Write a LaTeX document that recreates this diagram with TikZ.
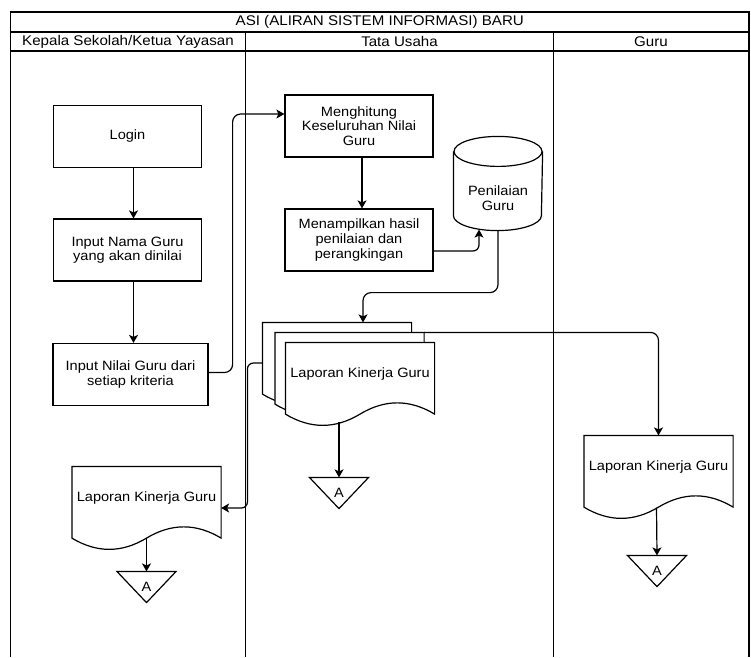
\documentclass[tikz,border=0pt]{standalone}
\usepackage{fontspec}
\setmainfont{Liberation Sans}[FakeStretch=1.08]
\usetikzlibrary{arrows.meta,calc,backgrounds}
\newcommand\docoutline[1]{%
  \coordinate (#1-r) at ($(#1.south east)+(0,8.5)$);
  \coordinate (#1-l) at ($(#1.south west)+(0,8.5)$);
  \draw[fill=white, line width=1.2pt] (#1-l) -- (#1.north west) -- (#1.north east) -- (#1-r)
    .. controls ($(#1-r)!0.1667!(#1-l)+(0,-15)$) and ($(#1-r)!0.3333!(#1-l)+(0,-15)$) .. ($(#1-r)!0.5!(#1-l)$)
    .. controls ($(#1-r)!0.6667!(#1-l)+(0,15)$) and ($(#1-r)!0.8333!(#1-l)+(0,15)$) .. (#1-l) -- cycle;}
\newcommand\trioutline[1]{%
  \draw (#1.north west) -- (#1.north east) -- (#1.south) -- cycle;}
\begin{document}
\begin{tikzpicture}[x=1pt,y=-1pt,line width=1.2pt,
  txt/.style={font=\fontsize{13.5}{14.5}\selectfont, align=center, inner sep=1pt},
  procbox/.style={txt, draw, minimum width=148pt, minimum height=62pt},
  docnode/.style={txt, minimum width=148pt, minimum height=62pt},
  trinode/.style={txt, minimum width=58pt, minimum height=30pt, inner sep=0pt},
  arr/.style={-{Stealth[length=8pt,width=9pt,inset=2pt]}},
  hdr/.style={font=\fontsize{14}{15}\selectfont, inner sep=0pt}]
\useasboundingbox (0,0) rectangle (751,657);
% frame
\draw (10.5,657) -- (10.5,12) -- (749,12) -- (749,657);
\draw (10.5,32) -- (749,32);
\draw (10.5,51) -- (749,51);
\draw (245.5,32) -- (245.5,657);
\draw (553.5,32) -- (553.5,657);
\node[hdr] (title) at (379.75,22) {ASI (ALIRAN SISTEM INFORMASI) BARU};
\node[hdr] (lane1) at (128,41.5) {Kepala Sekolah/Ketua Yayasan};
\node[hdr] (lane2) at (399.5,41.5) {Tata Usaha};
\node[hdr] (lane3) at (651,41.5) {Guru};
% process boxes
\node[procbox] (login) at (127.5,136.5) {Login};
\node[procbox] (inama) at (127.5,250) {Input Nama Guru\\yang akan dinilai};
\node[procbox, minimum width=155pt] (inilai) at (130.5,374.5) {Input Nilai Guru dari\\setiap kriteria};
\node[procbox] (menghitung) at (359,126) {Menghitung\\Keseluruhan Nilai\\Guru};
\node[procbox] (menampilkan) at (359,240) {Menampilkan hasil\\penilaian dan\\perangkingan};
% database
\node[minimum width=88pt, minimum height=93pt, inner sep=0pt] (db) at (498,183.5) {};
\draw[fill=white] (db.north west) ++(0,15) -- ($(db.south west)+(0,-15)$)
  arc[start angle=180, end angle=360, x radius=44pt, y radius=15pt] -- ($(db.north east)+(0,15)$);
\draw ($(db.north)+(0,15)$) ellipse [x radius=44pt, y radius=15pt];
\node[txt] (dbtext) at (498,198) {Penilaian\\Guru};
% documents
\node[docnode] (stackback) at (337,354) {};
\node[docnode] (stackmid) at (349.5,364) {};
\node[docnode] (stackfront) at (360,374) {Laporan Kinerja Guru};
\node[docnode] (kepdoc) at (146.5,498) {Laporan Kinerja Guru};
\node[docnode] (gurudoc) at (658.5,467) {Laporan Kinerja Guru};
\begin{scope}[on background layer]
\docoutline{stackback}
\docoutline{stackmid}
\docoutline{stackfront}
\docoutline{kepdoc}
\docoutline{gurudoc}
\end{scope}
% off-page connectors
\node[trinode] (tri1) at (339,493) {A};
\node[trinode] (tri2) at (146.5,587) {A};
\node[trinode] (tri3) at (657,571) {A};
\trioutline{tri1}
\trioutline{tri2}
\trioutline{tri3}
% connectors
\draw[arr] ($(login.south)+(6,0)$) -- ($(inama.north)+(6,0)$);
\draw[arr] ($(inama.south)+(6,0)$) -- ($(inilai.north)+(3,0)$);
\draw[arr, rounded corners=8pt] ($(inilai.east)+(0,-2)$) -- ++(24,0) |- ($(menghitung.west)+(0,-12)$);
\draw[arr] ($(menghitung.south)+(3,0)$) -- ($(menampilkan.north)+(3,0)$);
\draw[arr, rounded corners=6pt] ($(menampilkan.east)+(0,11)$) -| ($(db.south)+(-19,-1)$);
\draw[arr, rounded corners=8pt] (db.south) -- ++(0,62) -| ($(stackback.north)+(26,0)$);
\draw[arr, rounded corners=8pt] (stackmid.north east) -| (gurudoc.north);
\draw[arr, rounded corners=6pt] ($(stackback.west)+(0,9)$) -- ++(-15,0) |- ($(kepdoc.east)+(0,10)$);
\draw[arr] ($(tri1.north)+(0,-55)$) -- (tri1.north);
\draw[arr] ($(kepdoc.south)+(0,8.5)$) -- (tri2.north);
\draw[arr] ($(gurudoc.south)+(-2,9)$) -- ($(tri3.north)$);
\end{tikzpicture}
\end{document}
